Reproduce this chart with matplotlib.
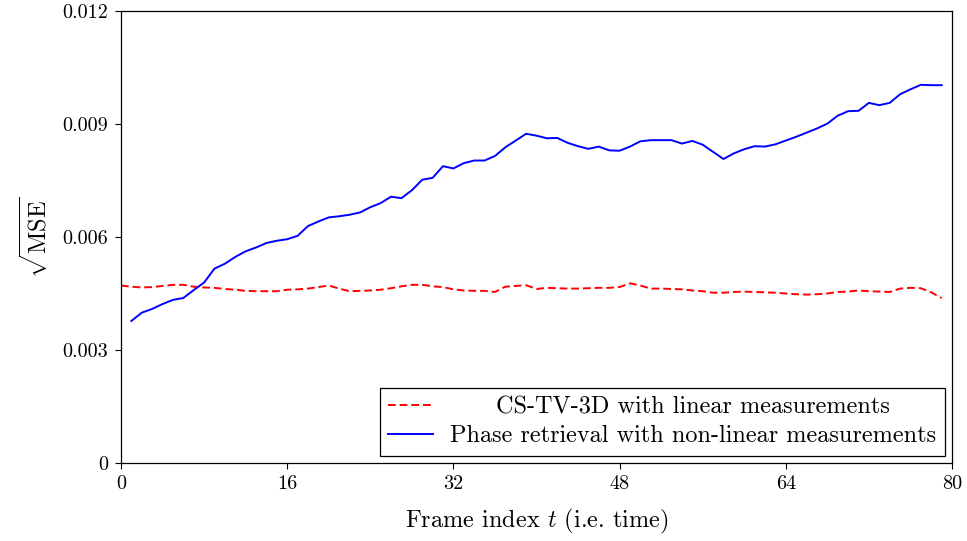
import matplotlib
matplotlib.use("Agg")
import matplotlib.pyplot as plt

plt.rcParams['font.family'] = ['cmr10', 'DejaVu Serif']
plt.rcParams['mathtext.fontset'] = 'cm'
plt.rcParams['axes.unicode_minus'] = False
plt.rcParams['axes.formatter.use_mathtext'] = True

# frame indices
frames_cs = list(range(0, 80))
frames_pr = list(range(1, 80))

# CS-TV-3D with linear measurements (sqrt MSE)
cs_tv = [0.00471, 0.00468, 0.00466, 0.00467, 0.00470, 0.00473, 0.00473, 0.00468, 0.00466, 0.00465,
         0.00462, 0.00460, 0.00457, 0.00456, 0.00456, 0.00456, 0.00460, 0.00461, 0.00463, 0.00467,
         0.00471, 0.00463, 0.00456, 0.00457, 0.00458, 0.00460, 0.00464, 0.00469, 0.00473, 0.00473,
         0.00469, 0.00467, 0.00461, 0.00458, 0.00457, 0.00457, 0.00454, 0.00468, 0.00470, 0.00472,
         0.00462, 0.00465, 0.00464, 0.00463, 0.00463, 0.00464, 0.00465, 0.00465, 0.00467, 0.00477,
         0.00471, 0.00463, 0.00463, 0.00462, 0.00461, 0.00458, 0.00456, 0.00452, 0.00452, 0.00454,
         0.00455, 0.00454, 0.00453, 0.00452, 0.00450, 0.00448, 0.00447, 0.00448, 0.00450, 0.00454,
         0.00455, 0.00458, 0.00456, 0.00455, 0.00454, 0.00463, 0.00465, 0.00464, 0.00453, 0.00438]

# Phase retrieval with non-linear measurements (sqrt MSE)
phase_ret = [0.00377, 0.00399, 0.00409, 0.00422, 0.00433, 0.00438, 0.00459, 0.00479, 0.00516, 0.00529,
             0.00547, 0.00562, 0.00572, 0.00584, 0.00590, 0.00594, 0.00603, 0.00629, 0.00641, 0.00652,
             0.00655, 0.00659, 0.00665, 0.00679, 0.00690, 0.00707, 0.00703, 0.00724, 0.00752, 0.00757,
             0.00788, 0.00782, 0.00796, 0.00803, 0.00803, 0.00815, 0.00838, 0.00856, 0.00874, 0.00869,
             0.00862, 0.00863, 0.00850, 0.00841, 0.00834, 0.00840, 0.00830, 0.00829, 0.00840, 0.00854,
             0.00857, 0.00857, 0.00857, 0.00848, 0.00855, 0.00845, 0.00826, 0.00807, 0.00822, 0.00833,
             0.00841, 0.00840, 0.00846, 0.00856, 0.00866, 0.00877, 0.00888, 0.00901, 0.00922, 0.00934,
             0.00935, 0.00956, 0.00950, 0.00956, 0.00979, 0.00992, 0.01004, 0.01003, 0.01003]

xticks = [0, 16, 32, 48, 64, 80]
yticks = [0, 0.003, 0.006, 0.009, 0.012]
ytick_labels = ['0', '0.003', '0.006', '0.009', '0.012']

fig = plt.figure(figsize=(9.67, 5.41), dpi=100)
ax = fig.add_axes([0.1251, 0.1442, 0.8594, 0.8355])

ax.plot(frames_cs, cs_tv, color='#ff0000', lw=1.4, dashes=(4, 2),
        label='CS-TV-3D with linear measurements')
ax.plot(frames_pr, phase_ret, color='#0000ff', lw=1.4,
        label='Phase retrieval with non-linear measurements')

ax.set_xlim(0, 80)
ax.set_ylim(0, 0.012)
ax.set_xticks(xticks)
ax.set_xticklabels([str(v) for v in xticks])
ax.set_yticks(yticks)
ax.set_yticklabels(ytick_labels)
ax.tick_params(direction='out', length=4, width=0.8, labelsize=14.5, colors='black', pad=5)
for s in ax.spines.values():
    s.set_linewidth(0.9)

ax.set_xlabel('Frame index $t$ (i.e. time)', fontsize=17.5, labelpad=10)
ax.set_ylabel(r'$\sqrt{\mathrm{MSE}}$', fontsize=17.5, labelpad=8)

leg = ax.legend(loc='lower right', fontsize=17.5, fancybox=False, framealpha=1,
                edgecolor='black', handlelength=1.85, borderaxespad=0.3,
                labelspacing=0.25, handletextpad=0.7, borderpad=0.35)
leg.get_frame().set_linewidth(0.9)

# center the shorter legend label in its column, like pgfplots
fig.canvas.draw()
renderer = fig.canvas.get_renderer()
texts = leg.get_texts()
widths = [t.get_window_extent(renderer).width for t in texts]
wmax = max(widths)
for t, w in zip(texts, widths):
    t.set_position(((wmax - w) / 2, 0))

fig.savefig('out.png', dpi=100)
